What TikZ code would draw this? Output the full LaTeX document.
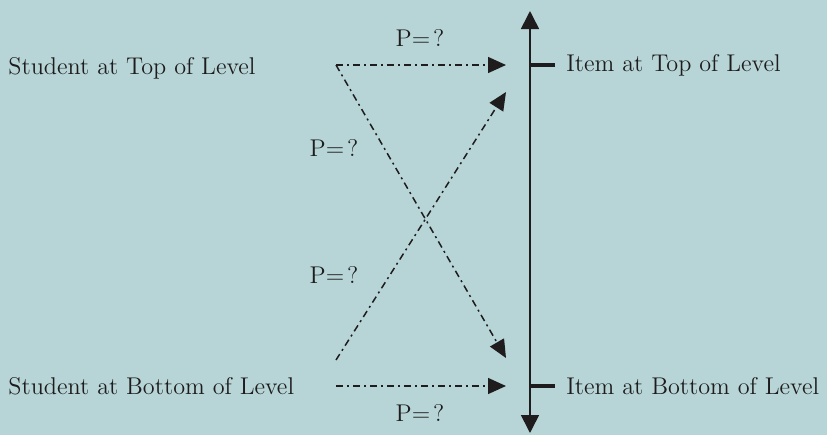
\documentclass[tikz,border=0pt]{standalone}
\usepackage{tikz}
\usetikzlibrary{arrows.meta}
\definecolor{bgblue}{RGB}{183,213,215}
\definecolor{ink}{RGB}{30,28,28}
\tikzset{
  lbl/.style={inner sep=0pt, text=ink, font=\fontsize{12.1}{14}\selectfont},
  prob/.style={-{Triangle[length=9pt,width=8pt]}, ink, line width=0.75pt,
    dash pattern=on 3.5pt off 2pt on 1pt off 2pt},
  axis/.style={{Triangle[length=9pt,width=9pt]}-{Triangle[length=9pt,width=9pt]}, ink, line width=0.8pt},
  tick/.style={ink, line width=2pt},
}

\begin{document}
\begin{tikzpicture}[x=0.5pt,y=-0.5pt]
  % frame
  \fill[bgblue] (0,0) rectangle (827,435);
  \useasboundingbox (0,0) rectangle (827,435);

  % students and items
  \node[lbl, anchor=west] (stop) at (8,68) {Student at Top of Level};
  \node[lbl, anchor=west] (sbot) at (8,386) {Student at Bottom of Level};
  \node[lbl, anchor=west] (itop) at (566,65) {Item at Top of Level};
  \node[lbl, anchor=west] (ibot) at (566,386) {Item at Bottom of Level};

  % the scale
  \coordinate (axlo) at (530,433);
  \coordinate (axhi) at (530,11);
  \draw[axis] (axlo) -- (axhi);
  \draw[tick] (530,65) -- (555,65);
  \draw[tick] (530,386) -- (555,386);

  % probabilities
  \coordinate (a1) at (336,65);  \coordinate (a2) at (506,65);
  \coordinate (c2) at (506,358);
  \coordinate (b1) at (336,360); \coordinate (b2) at (506,92);
  \coordinate (d1) at (336,386); \coordinate (d2) at (506,386);
  \draw[prob] (a1) -- (a2);
  \draw[prob] (a1) -- (c2);
  \draw[prob] (b1) -- (b2);
  \draw[prob] (d1) -- (d2);
  \node[lbl] (p1) at (420,38) {P=\hspace{0.12em}?};
  \node[lbl] (p2) at (334,148) {P=\hspace{0.12em}?};
  \node[lbl] (p3) at (334,275) {P=\hspace{0.12em}?};
  \node[lbl] (p4) at (420,413) {P=\hspace{0.12em}?};
\end{tikzpicture}
\end{document}
